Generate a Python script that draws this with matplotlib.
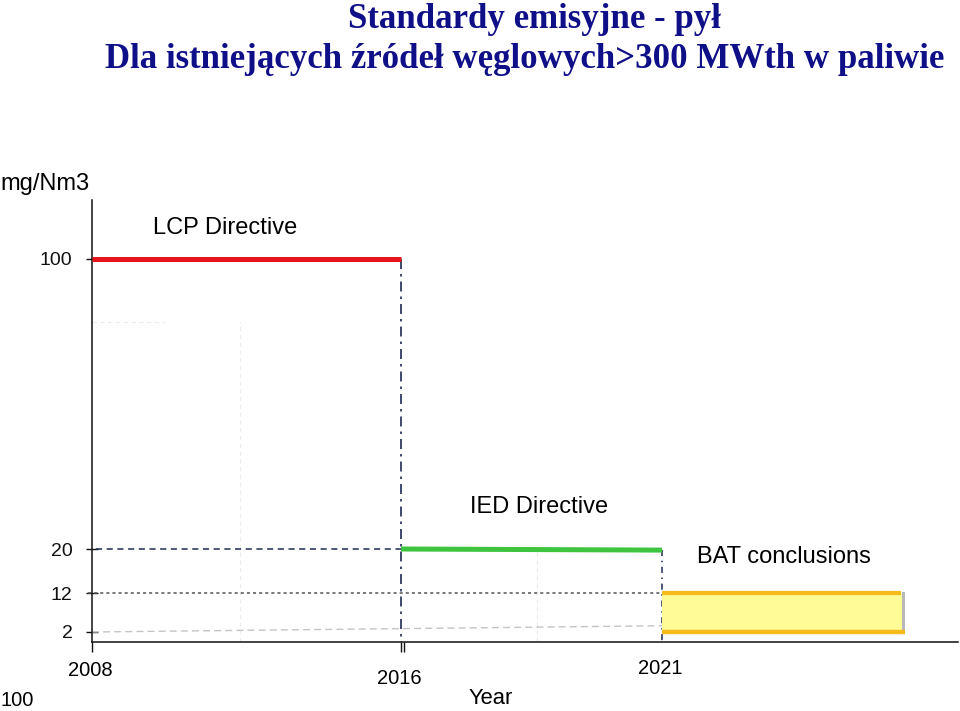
import numpy as np
import matplotlib
matplotlib.use('Agg')
import matplotlib.pyplot as plt

# ---------------- data ----------------
lcp_years = [2008, 2016]
lcp_values = [100, 100]
ied_years = [2016, 2021]
ied_values = [20, 19.8]
bat_years = [2021, 2026]
bat_upper = [12, 12]
bat_lower = [2, 2]
ref20_years = [2008.1, 2016]
ref20_values = [20, 20]
ref12_years = [2007.9, 2021]
ref12_values = [12, 12]
ref2_years = [2008, 2021]
ref2_values = [2, 3.6]
ytick_values = [2, 12, 20, 100]
ytick_labels = ['2', '12', '20', '100']
xtick_years = [2008, 2016, 2021]
xtick_labels = ['2008', '2016', '2021']
faint_v_years = [2011.83, 2018.6]
faint_v_tops = [82.6, 20]

title1 = 'Standardy emisyjne - pył'
title2 = 'Dla istniejących źródeł węglowych>300 MWth w paliwie'

# ---------------- non-linear scales (piecewise) ----------------
xk = np.array([2000, 2008, 2016, 2021, 2026, 2035], float)
xp = np.array([-309, 0, 309, 570, 811, 1244.8], float)
yk = np.array([-20, 0, 2, 12, 20, 100, 130], float)
yp = np.array([-20, 0, 10, 49, 93, 383, 491.75], float)

def fx(v): return np.interp(v, xk, xp)
def ix(p): return np.interp(p, xp, xk)
def fy(v): return np.interp(v, yk, yp)
def iy(p): return np.interp(p, yp, yk)

W, H = 960, 711
fig = plt.figure(figsize=(W / 100, H / 100), dpi=100)
ax = fig.add_axes([92 / W, 69 / H, 866 / W, 442 / H])
ax.set_xscale('function', functions=(fx, ix))
ax.set_yscale('function', functions=(fy, iy))
ax.set_xlim(2008, ix(866))
ax.set_ylim(0, iy(442))

SANS = ['Liberation Sans', 'DejaVu Sans']
SERIF = ['Liberation Serif', 'DejaVu Serif']

for s in ['top', 'right']:
    ax.spines[s].set_visible(False)
for s in ['left', 'bottom']:
    ax.spines[s].set_linewidth(1.1)
    ax.spines[s].set_color('#111111')

# faint grid remnants
for xv, top in zip(faint_v_years, faint_v_tops):
    ax.plot([xv, xv], [0, top], color='#ececec', lw=0.8, ls=(0, (4, 3)))
ax.plot([2008, 2009.9], [faint_v_tops[0], faint_v_tops[0]], color='#ececec', lw=0.8, ls=(0, (4, 3)))

# reference lines
ax.plot(ref2_years, ref2_values, color='#c4c4c4', lw=1.0, ls=(0, (5, 3)), clip_on=False)
ax.plot(ref12_years, ref12_values, color='#555555', lw=1.1, ls=(0, (2, 2)), clip_on=False)
ax.plot(ref20_years, ref20_values, color='#1f2a55', lw=1.1, ls=(0, (4, 3)), clip_on=False)

# vertical boundaries
ax.plot([lcp_years[1], lcp_years[1]], [lcp_values[1], 0], color='#1f2a55', lw=1.2,
        ls=(0, (6, 3, 1.5, 3)), clip_on=False)
ax.plot([ied_years[1], ied_years[1]], [ied_values[1], 0], color='#1f2a55', lw=1.1,
        ls=(0, (4, 3, 1, 3)), clip_on=False)

# BAT band
ax.fill_between(bat_years, bat_lower, bat_upper, color='#fffb96', lw=0, zorder=2)
ax.plot([bat_years[1], bat_years[1]], [bat_upper[1], bat_lower[1]], color='#b8b8b8', lw=2.2,
        zorder=3)
ax.plot([bat_years[0], bat_years[1] - 0.05], bat_upper, color='#f5bb1a', lw=3.0,
        solid_capstyle='butt', zorder=4)
ax.plot([bat_years[0], bat_years[1] + 0.05], bat_lower, color='#f5bb1a', lw=3.2,
        solid_capstyle='butt', zorder=4)

# directive lines
ax.plot(lcp_years, lcp_values, color='#e5141b', lw=3.6, solid_capstyle='butt', zorder=5)
ax.plot(ied_years, ied_values, color='#3ec43e', lw=3.6, solid_capstyle='butt', zorder=5)

# ticks
ax.set_yticks(ytick_values)
ax.set_yticklabels(ytick_labels, family=SANS, fontsize=14)
ax.tick_params(axis='y', direction='inout', length=8, width=1.0, pad=10, colors='#111111')
ax.set_xticks(xtick_years[:2])
ax.set_xticklabels([])
ax.set_xticks([xtick_years[1] + 0.06], minor=True)
ax.tick_params(axis='x', which='both', direction='out', length=7, width=1.0, colors='#111111')
ax.yaxis.set_minor_locator(matplotlib.ticker.NullLocator())

# x tick labels (staggered as in the original)
label_dy = [0, 8, -1]
for yr, lab, dy in zip(xtick_years, xtick_labels, label_dy):
    ax.annotate(lab, xy=(yr, 0), xycoords=('data', 'axes fraction'),
                xytext=(-2, -28 - dy), textcoords='offset pixels',
                ha='center', va='center', family=SANS, fontsize=14.5)

# annotations
ax.text(2009.58, 108.6, 'LCP Directive', family=SANS, fontsize=17, va='center', ha='left')
ax.text(2017.32, 31.6, 'IED Directive', family=SANS, fontsize=17, va='center', ha='left')
ax.text(2021.73, 18.55, 'BAT conclusions', family=SANS, fontsize=17, va='center', ha='left')

def fxy(px, py):
    return px / W, 1 - py / H

fig.text(*fxy(0, 184), 'mg/Nm3', family=SANS, fontsize=17, ha='left', va='center')
fig.text(*fxy(491, 698), 'Year', family=SANS, fontsize=15.8, ha='center', va='center')
fig.text(*fxy(0, 700), '100', family=SANS, fontsize=14.5, ha='left', va='center')

title_color = '#0f0f88'
fig.text(*fxy(534, 19), title1, family=SERIF, fontsize=25.1, fontweight='bold',
         color=title_color, ha='center', va='center')
fig.text(*fxy(525, 59), title2, family=SERIF, fontsize=25.1, fontweight='bold',
         color=title_color, ha='center', va='center')

fig.savefig('out.png', dpi=100)
